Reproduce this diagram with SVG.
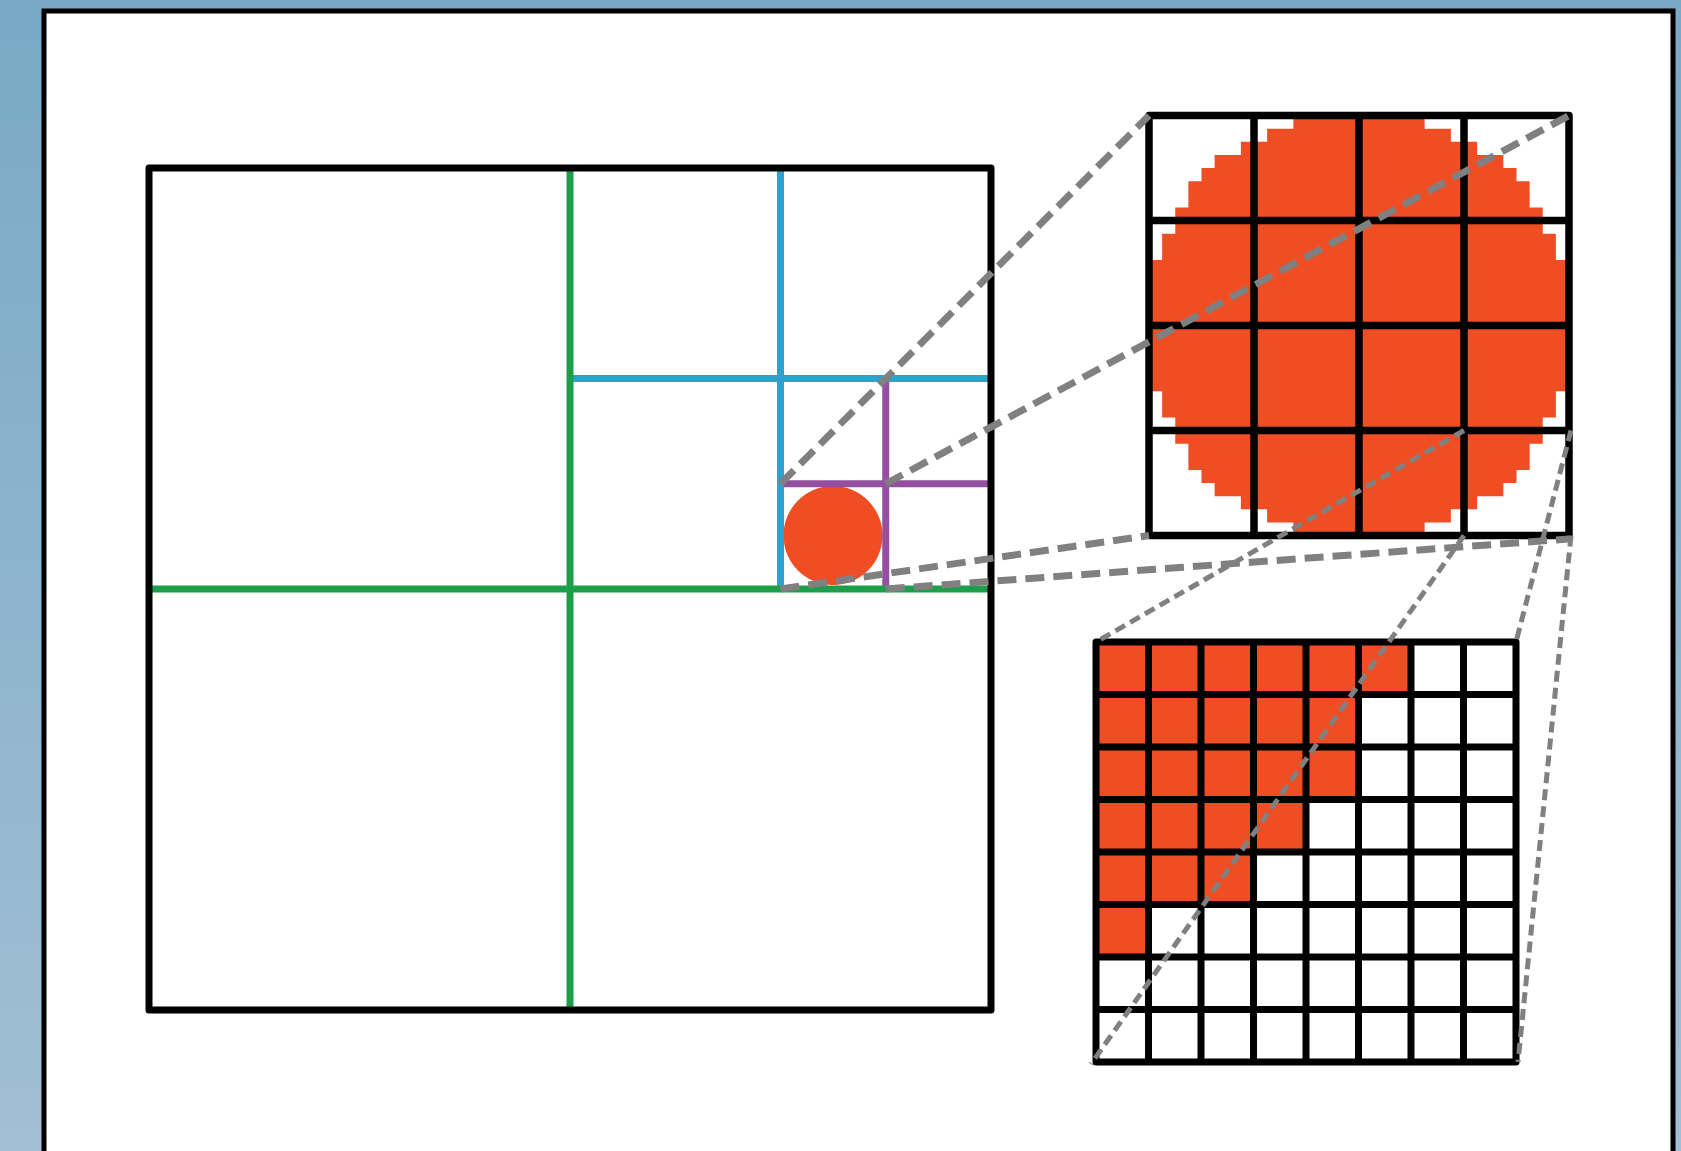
<svg xmlns="http://www.w3.org/2000/svg" width="1681" height="1151" viewBox="0 0 1681 1151">
  <defs>
    <linearGradient id="bg" x1="0" y1="0" x2="0" y2="1">
      <stop offset="0" stop-color="#79A9C5"/>
      <stop offset="1" stop-color="#A1BFD5"/>
    </linearGradient>
    <style>
      .frame { fill: #FFFFFF; stroke: #000000; stroke-width: 5; }
      .box { fill: none; stroke: #000000; stroke-width: 7; stroke-linejoin: round; stroke-linecap: round; }
      .grid { fill: none; stroke: #000000; stroke-width: 7.5; stroke-linejoin: round; stroke-linecap: butt; }
      .fill { fill: #EF4D23; stroke: none; }
      .green { stroke: #1BA049; stroke-width: 7; fill: none; }
      .blue { stroke: #2FA2CB; stroke-width: 7; fill: none; }
      .purple { stroke: #944FA0; stroke-width: 7; fill: none; }
      .dash-thick { stroke: #808080; stroke-width: 7; fill: none; stroke-dasharray: 19 9; }
      .dash-thin { stroke: #808080; stroke-width: 5; fill: none; stroke-dasharray: 11 6; }
    </style>
  </defs>

  <rect id="background" x="0" y="0" width="1681" height="1151" fill="url(#bg)"/>
  <rect id="frame" class="frame" x="44" y="11" width="1629" height="1200"/>

  <g id="main-square">
    <circle class="fill" cx="833" cy="535.5" r="49.5"/>
    <path class="purple" d="M885.75,378.5 V589 M780.5,483.75 H991"/>
    <path class="blue" d="M780.5,168 V589 M570,378.5 H991"/>
    <path class="green" d="M570,168 V1010 M149,589 H991"/>
    <rect class="box" x="149" y="168" width="842" height="842"/>
  </g>

  <g id="zoom-level-1">
    <path class="fill" d="M1293.375,115.5 H1424.625 V128.625 H1450.875 V141.75 H1477.125 V154.875 H1503.375 V168 H1516.5 V181.125 H1529.625 V207.375 H1542.75 V233.625 H1555.875 V259.875 H1569 V391.125 H1555.875 V417.375 H1542.75 V443.625 H1529.625 V469.875 H1516.5 V483 H1503.375 V496.125 H1477.125 V509.25 H1450.875 V522.375 H1424.625 V535.5 H1293.375 V522.375 H1267.125 V509.25 H1240.875 V496.125 H1214.625 V483 H1201.5 V469.875 H1188.375 V443.625 H1175.25 V417.375 H1162.125 V391.125 H1149 V259.875 H1162.125 V233.625 H1175.25 V207.375 H1188.375 V181.125 H1201.5 V168 H1214.625 V154.875 H1240.875 V141.75 H1267.125 V128.625 H1293.375 Z"/>
    <path class="grid" d="M1254,115.5 V535.5 M1359,115.5 V535.5 M1464,115.5 V535.5 M1149,220.5 H1569 M1149,325.5 H1569 M1149,430.5 H1569"/>
    <rect class="grid" x="1149" y="115.5" width="420" height="420" style="stroke-linecap: round"/>
  </g>

  <g id="zoom-level-2">
    <path class="fill" d="M1096,642 H1411 V694.5 H1358.5 V799.5 H1306 V852 H1253.5 V904.5 H1148.5 V957 H1096 Z"/>
    <path class="grid" style="stroke-width:7" d="M1148.5,642 V1062 M1201,642 V1062 M1253.5,642 V1062 M1306,642 V1062 M1358.5,642 V1062 M1411,642 V1062 M1463.5,642 V1062 M1096,694.5 H1516 M1096,747 H1516 M1096,799.5 H1516 M1096,852 H1516 M1096,904.5 H1516 M1096,957 H1516 M1096,1009.5 H1516"/>
    <rect class="grid" style="stroke-width:7" x="1096" y="642" width="420" height="420"/>
  </g>

  <g id="connectors">
    <line class="dash-thick" x1="780.5" y1="483.75" x2="1149" y2="115.5"/>
    <line class="dash-thick" x1="885.75" y1="483.75" x2="1569" y2="115.5"/>
    <line class="dash-thick" x1="780.5" y1="589" x2="1149" y2="535.5"/>
    <line class="dash-thick" x1="885.75" y1="589" x2="1569" y2="539"/>
    <line class="dash-thin" x1="1464" y1="430.5" x2="1096" y2="642"/>
    <line class="dash-thin" x1="1571" y1="430.5" x2="1516" y2="642"/>
    <line class="dash-thin" x1="1464" y1="535.5" x2="1091" y2="1064"/>
    <line class="dash-thin" x1="1571" y1="535.5" x2="1518" y2="1062"/>
  </g>
</svg>
